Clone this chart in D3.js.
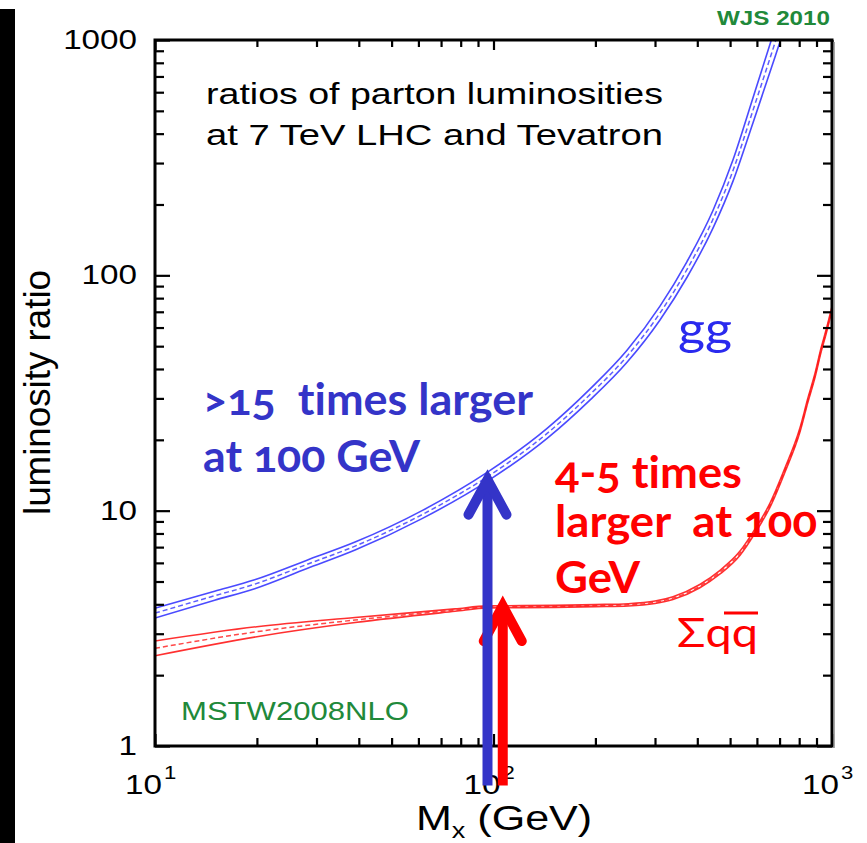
<!DOCTYPE html>
<html>
<head>
<meta charset="utf-8">
<script src="https://cdn.jsdelivr.net/npm/d3@7"></script>
<style>
  html, body { margin: 0; padding: 0; background: #fff; }
  svg { display: block; }
  text { white-space: pre; }
  .cal { font-family: Lato, "Open Sans", sans-serif; font-variant-numeric: oldstyle-nums; font-feature-settings: "onum" 1, "liga" 0; font-variant-ligatures: none; }
  .ari { font-family: "Liberation Sans", Arial, sans-serif; }
</style>
</head>
<body>
<svg id="chart" width="867" height="843"></svg>
<script>
// Invariant mass M_X (GeV) and LHC(7 TeV)/Tevatron luminosity ratio, gg channel
const ggMass  = [10, 15, 19.7, 28, 39, 61.5, 96, 144, 193, 248, 310, 373, 445, 510, 584, 679, 752];
const ggRatio = [3.67, 4.35, 4.87, 5.9, 7.07, 9.62, 13.95, 21.3, 31.2, 45.3, 69, 106, 173, 279, 502, 976, 1545];
const ggErr   = [0.05, 0.045, 0.045, 0.042, 0.04, 0.04, 0.045, 0.05, 0.055, 0.06, 0.07, 0.08, 0.09, 0.11, 0.13, 0.15, 0.16];

// Sum over light quark-antiquark channels
const qqMass  = [10, 20, 39, 77, 96, 152, 200, 250, 300, 339, 407, 467, 535, 592, 656, 726, 804, 849, 891, 928, 960, 1000];
const qqRatio = [2.6, 3.06, 3.43, 3.78, 3.9, 3.92, 3.95, 3.98, 4.08, 4.25, 4.78, 5.48, 6.6, 8.18, 10.55, 14.86, 22.0, 29.5, 37.6, 48.0, 57.3, 72.4];
const qqErr   = [0.075, 0.05, 0.025, 0.012, 0.01, 0.01, 0.01, 0.011, 0.012, 0.014, 0.016, 0.018, 0.02, 0.02, 0.02, 0.02, 0.02, 0.02, 0.02, 0.02, 0.02, 0.02];

// Axis ticks
const yMajor = [1, 10, 100, 1000];
const yMajorLabels = ["1", "10", "100", "1000"];
const xMajor = [10, 100, 1000];
const xMajorExp = ["1", "2", "3"];

// Highlight arrows at ~100 GeV: [mass, start ratio, tip ratio]
const ggArrow = [96, 0.68, 13.95];
const qqArrow = [106.5, 0.68, 4.05];

const colBlueLine = "#3636ff";
const colBlueText = "#3434c8";
const colRed = "#ff0000";
const colGreen = "#21893a";
const SX = 1.23; // horizontal text stretch

const svg = d3.select("#chart");
const x = d3.scaleLog().domain([10, 1000]).range([155, 832]);
const y = d3.scaleLog().domain([1, 1000]).range([746, 40]);

const minorOf = (lo, hi) => {
  const out = [];
  for (let p = lo; p < hi; p *= 10) for (let k = 2; k <= 9; k++) out.push(p * k);
  return out;
};
const xMinor = minorOf(10, 1000);
const yMinor = minorOf(1, 1000);

// left black bar
svg.append("rect").attr("x", 0).attr("y", 9).attr("width", 15).attr("height", 834).attr("fill", "#000");

// clip for curves
svg.append("defs").append("clipPath").attr("id", "plotClip")
  .append("rect").attr("x", 155).attr("y", 40).attr("width", 677).attr("height", 706);

// curves: upper/lower band edges + dashed central line
function band(mass, ratio, err, color) {
  const g = svg.append("g").attr("clip-path", "url(#plotClip)");
  const line = d3.line().curve(d3.curveMonotoneX);
  const pts = f => mass.map((m, i) => [x(m), y(f(ratio[i], err[i]))]);
  g.append("path").attr("d", line(pts((v, e) => v * (1 + e))))
    .attr("fill", "none").attr("stroke", color).attr("stroke-width", 1.6).attr("opacity", 0.9);
  g.append("path").attr("d", line(pts((v, e) => v / (1 + e))))
    .attr("fill", "none").attr("stroke", color).attr("stroke-width", 1.6).attr("opacity", 0.9);
  g.append("path").attr("d", line(pts(v => v)))
    .attr("fill", "none").attr("stroke", color).attr("stroke-width", 1.5)
    .attr("stroke-dasharray", "5,3").attr("opacity", 0.8);
}
band(qqMass, qqRatio, qqErr, "#ff1a1a");
band(ggMass, ggRatio, ggErr, colBlueLine);

// axes: ticks inside the frame
const frame = svg.append("g");
function ticks(axisGen, scale, vals, size, transform) {
  const a = axisGen(scale).tickValues(vals).tickSize(size).tickFormat("");
  const g = frame.append("g").attr("transform", transform).call(a);
  g.select(".domain").remove();
  g.selectAll("line").attr("stroke", "#000").attr("stroke-width", 2.2);
}
ticks(d3.axisLeft, y, yMajor, -15, "translate(155,0)");
ticks(d3.axisLeft, y, yMinor, -9, "translate(155,0)");
ticks(d3.axisRight, y, yMajor, -15, "translate(832,0)");
ticks(d3.axisRight, y, yMinor, -9, "translate(832,0)");
ticks(d3.axisBottom, x, xMajor, -12, "translate(0,746)");
ticks(d3.axisBottom, x, xMinor, -8, "translate(0,746)");
ticks(d3.axisTop, x, xMajor, -10, "translate(0,40)");
ticks(d3.axisTop, x, xMinor, -7, "translate(0,40)");
frame.append("rect").attr("x", 155).attr("y", 40).attr("width", 677).attr("height", 706)
  .attr("fill", "none").attr("stroke", "#000").attr("stroke-width", 3);
frame.append("line").attr("x1", 834).attr("x2", 834).attr("y1", 42).attr("y2", 748)
  .attr("stroke", "#888").attr("stroke-width", 1.5);

// stretched text helper
function stext(str, px, py, opts) {
  const o = Object.assign({ size: 27, anchor: "start", cls: "ari", fill: "#000", weight: "normal", rot: 0, sx: SX }, opts || {});
  const t = svg.append("text")
    .attr("class", o.cls)
    .attr("transform", `translate(${px},${py}) scale(${o.sx},1)` + (o.rot ? ` rotate(${o.rot})` : ""))
    .attr("font-size", o.size).attr("font-weight", o.weight)
    .attr("fill", o.fill).attr("text-anchor", o.anchor).text(str);
  if (o.len) t.attr("textLength", o.len / o.sx).attr("lengthAdjust", "spacingAndGlyphs");
  return t;
}

// y tick labels
yMajor.forEach((v, i) => stext(yMajorLabels[i], 137, y(v) + 9, { size: 27, anchor: "end" }));
// x tick labels 10^n
xMajor.forEach((v, i) => {
  stext("10", x(v) + 7, 794, { size: 27, anchor: "end" });
  stext(xMajorExp[i], x(v) + 9, 779, { size: 18 });
});

// axis titles
stext("luminosity ratio", 50, 515, { size: 36, rot: -90, len: 245, sx: 1 });
svg.append("text").attr("class", "ari").attr("transform", `translate(416,830) scale(${SX},1)`)
  .attr("font-size", 35).attr("fill", "#000")
  .call(t => {
    t.append("tspan").text("M");
    t.append("tspan").attr("font-size", 22).attr("dy", 8).text("x");
    t.append("tspan").attr("dy", -8).text(" (GeV)");
  });

// header texts
stext("ratios of parton luminosities", 206, 104, { size: 30, len: 457 });
stext("at 7 TeV LHC and Tevatron", 206, 145, { size: 30, len: 457 });
stext("WJS 2010", 717, 25, { size: 20, weight: "bold", fill: colGreen, len: 113 });
stext("MSTW2008NLO", 181, 720, { size: 25, fill: colGreen, len: 228 });

// arrows (red beneath blue)
function arrow(spec, color) {
  const [m, v0, v1] = spec;
  const ax = x(m), yb = y(v0), yt = y(v1);
  const g = svg.append("g").attr("stroke", color).attr("fill", "none");
  g.append("line").attr("x1", ax).attr("x2", ax).attr("y1", yb).attr("y2", yt + 4)
    .attr("stroke-width", 10);
  g.append("path").attr("d", `M${ax - 19},${yt + 38} L${ax},${yt + 3} L${ax + 19},${yt + 38}`)
    .attr("stroke-width", 10).attr("stroke-linecap", "round").attr("stroke-linejoin", "miter");
}
arrow(qqArrow, colRed);
arrow(ggArrow, colBlueText);

// annotations
stext(">15  times larger", 203, 415, { cls: "cal", size: 44, weight: "bold", fill: colBlueText, len: 330 });
stext("at 100 GeV", 203, 472, { cls: "cal", size: 44, weight: "bold", fill: colBlueText, len: 217 });
stext("4-5 times", 555, 488, { cls: "cal", size: 44, weight: "bold", fill: colRed, len: 187 });
stext("larger  at 100", 555, 537, { cls: "cal", size: 44, weight: "bold", fill: colRed, len: 262 });
stext("GeV", 555, 593, { cls: "cal", size: 44, weight: "bold", fill: colRed, len: 85 });
stext("gg", 678, 345, { cls: "cal", size: 46, fill: "#2a2aee", len: 54 });
stext("\u03A3qq", 677, 647, { cls: "cal", size: 40, fill: colRed, len: 81 });
svg.append("line").attr("x1", 724).attr("x2", 758).attr("y1", 613).attr("y2", 613)
  .attr("stroke", colRed).attr("stroke-width", 3);
</script>
</body>
</html>
